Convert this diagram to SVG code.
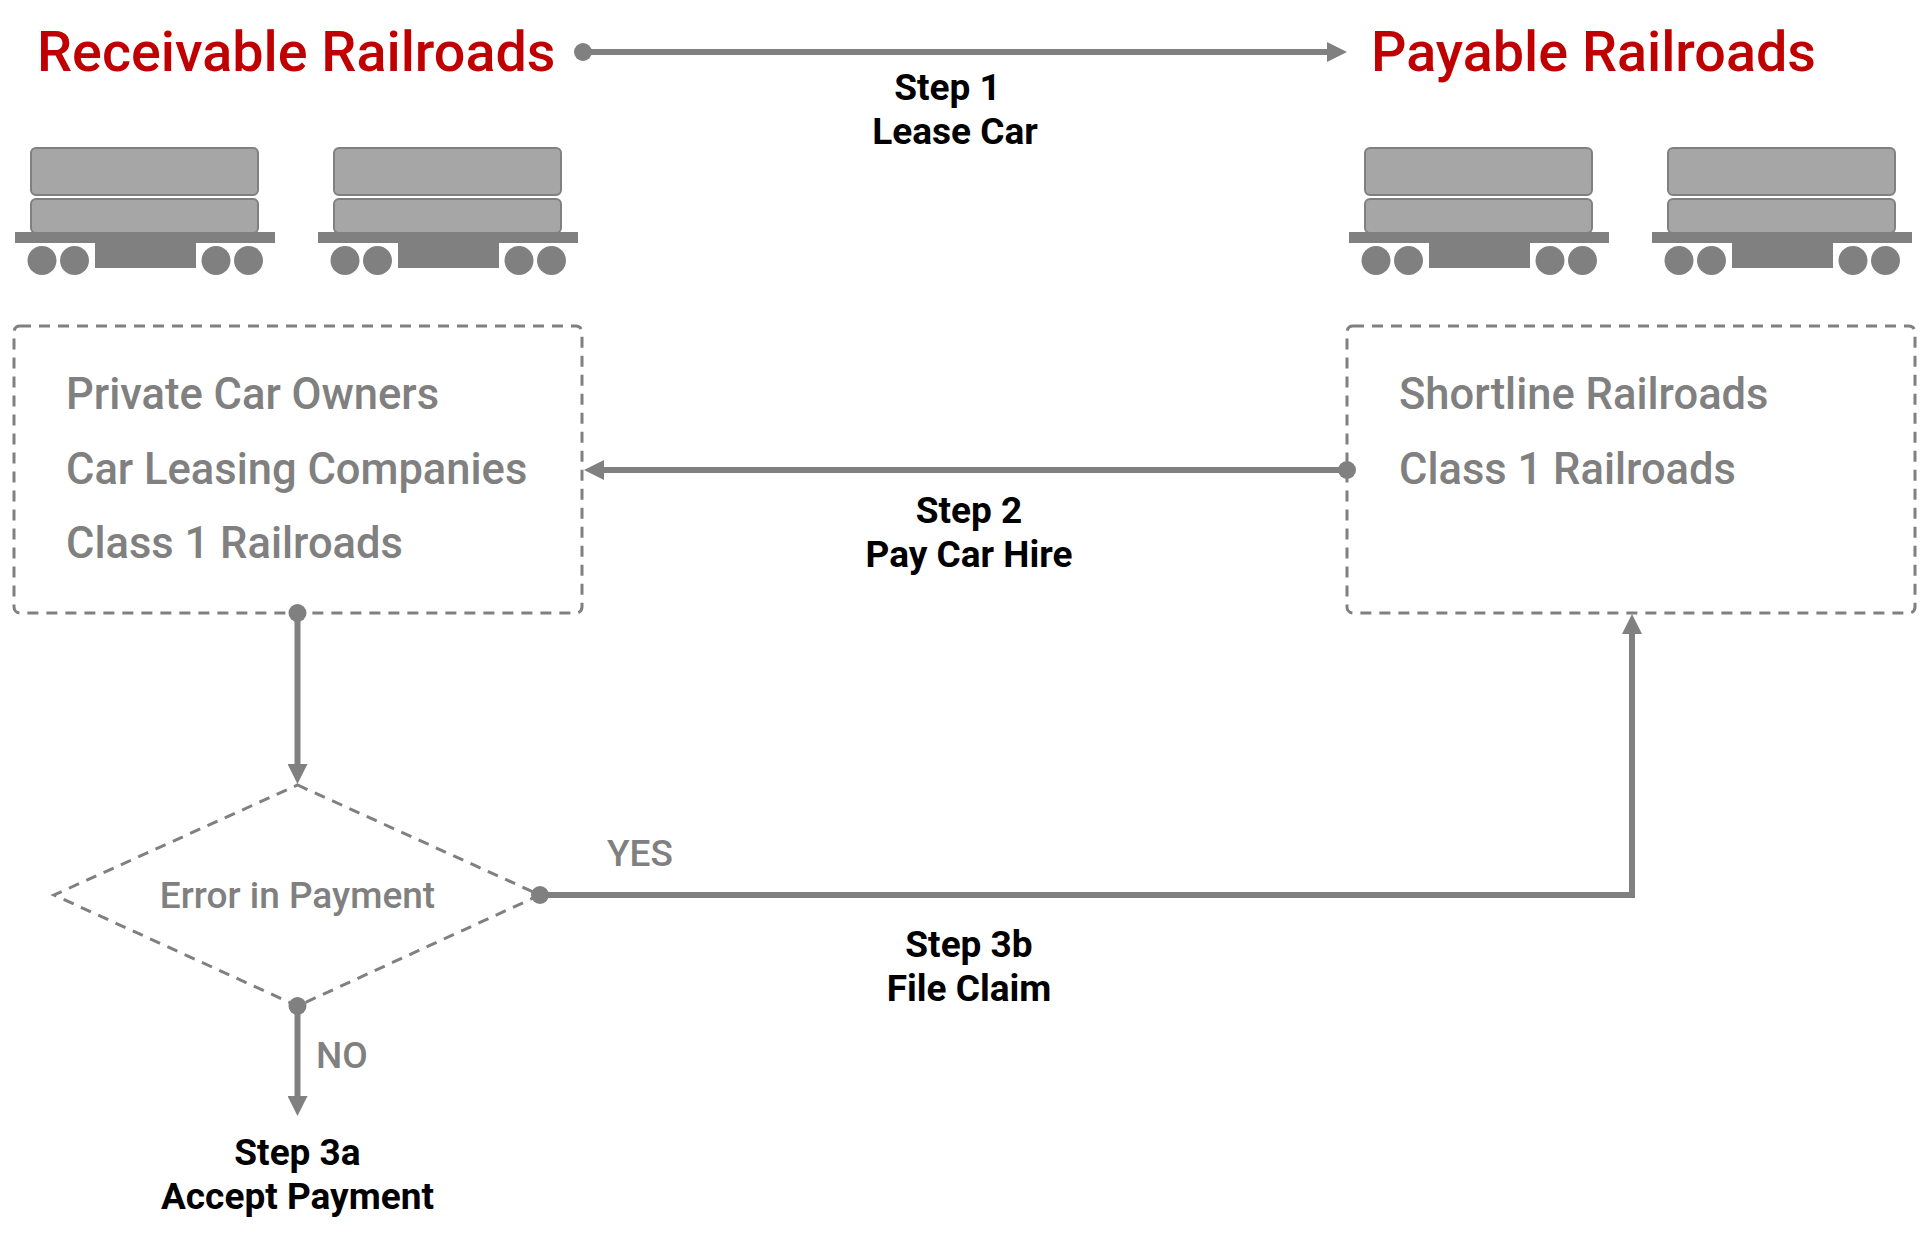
<svg xmlns="http://www.w3.org/2000/svg" xmlns:xlink="http://www.w3.org/1999/xlink" width="1920" height="1244" viewBox="0 0 1920 1244">
<style>
.title{font-family:Roboto,"Liberation Sans",sans-serif;font-size:55.7px;font-weight:500;fill:#C00000}
.gray{font-family:Roboto,"Liberation Sans",sans-serif;font-size:43.5px;font-weight:500;fill:#808080}
.gsm{font-family:Roboto,"Liberation Sans",sans-serif;font-size:37px;font-weight:500;fill:#808080}
.step{font-family:Roboto,"Liberation Sans",sans-serif;font-size:37px;font-weight:700;fill:#000;text-anchor:middle}
.dash{fill:none;stroke:#808080;stroke-width:3;stroke-dasharray:11 8}
.conn{fill:none;stroke:#808080;stroke-width:6}
.dot{fill:#808080}
.box{fill:#A6A6A6;stroke:#808080;stroke-width:2}
.dark{fill:#808080}
</style>
<defs>
<marker id="arrow" markerUnits="userSpaceOnUse" viewBox="0 -10 20 20" refX="1" refY="0" markerWidth="20" markerHeight="20" orient="auto">
<path d="M0,-10 L20,0 L0,10 Z" fill="#808080"/>
</marker>
<g id="car">
<rect class="box" x="-114" y="148" width="227" height="47" rx="5"/>
<rect class="box" x="-114" y="199" width="227" height="34" rx="5"/>
<rect class="dark" x="-130" y="232" width="260" height="11"/>
<rect class="dark" x="-50" y="243" width="101" height="25"/>
<circle class="dark" cx="-103" cy="260.5" r="14.5"/>
<circle class="dark" cx="-70.5" cy="260.5" r="14.5"/>
<circle class="dark" cx="71" cy="260.5" r="14.5"/>
<circle class="dark" cx="103.5" cy="260.5" r="14.5"/>
</g>
</defs>
<rect width="1920" height="1244" fill="#FFFFFF"/>

<g id="title-receivable"><text class="title" x="37" y="71">Receivable Railroads</text></g>
<g id="title-payable"><text class="title" x="1371" y="71">Payable Railroads</text></g>

<g id="cars-receivable">
<use xlink:href="#car" href="#car" x="145" y="0"/>
<use xlink:href="#car" href="#car" x="448" y="0"/>
</g>
<g id="cars-payable">
<use xlink:href="#car" href="#car" x="1479" y="0"/>
<use xlink:href="#car" href="#car" x="1782" y="0"/>
</g>

<g id="node-receivable">
<rect class="dash" x="14" y="326" width="568" height="287" rx="6"/>
<text class="gray" x="66" y="409">Private Car Owners</text>
<text class="gray" x="66" y="484">Car Leasing Companies</text>
<text class="gray" x="66" y="558">Class 1 Railroads</text>
</g>

<g id="node-payable">
<rect class="dash" x="1347" y="326" width="568" height="287" rx="6"/>
<text class="gray" x="1399" y="409">Shortline Railroads</text>
<text class="gray" x="1399" y="484">Class 1 Railroads</text>
</g>

<g id="node-decision">
<polygon class="dash" points="297.5,785 540,895 297.5,1006 54,895"/>
<text class="gsm" x="297.5" y="908" text-anchor="middle">Error in Payment</text>
</g>

<g id="connectors">
<line class="conn" x1="583" y1="52" x2="1328" y2="52" marker-end="url(#arrow)"/>
<circle class="dot" cx="583" cy="52" r="9"/>
<line class="conn" x1="1347" y1="470" x2="603" y2="470" marker-end="url(#arrow)"/>
<circle class="dot" cx="1347" cy="470" r="9"/>
<line class="conn" x1="297.5" y1="613" x2="297.5" y2="765" marker-end="url(#arrow)"/>
<circle class="dot" cx="297.5" cy="613" r="9"/>
<polyline class="conn" points="540,895 1632,895 1632,633" marker-end="url(#arrow)"/>
<circle class="dot" cx="540" cy="895" r="9"/>
<line class="conn" x1="297.5" y1="1006" x2="297.5" y2="1097" marker-end="url(#arrow)"/>
<circle class="dot" cx="297.5" cy="1006" r="9"/>
</g>

<g id="label-step1">
<text class="step" x="947.5" y="100">Step 1</text>
<text class="step" x="955" y="144">Lease Car</text>
</g>
<g id="label-step2">
<text class="step" x="969" y="523">Step 2</text>
<text class="step" x="969" y="567">Pay Car Hire</text>
</g>
<g id="label-step3b">
<text class="step" x="969" y="957">Step 3b</text>
<text class="step" x="969" y="1001">File Claim</text>
</g>
<g id="label-step3a">
<text class="step" x="297.5" y="1165">Step 3a</text>
<text class="step" x="297.5" y="1209">Accept Payment</text>
</g>
<g id="label-yes"><text class="gsm" x="607" y="866">YES</text></g>
<g id="label-no"><text class="gsm" x="316" y="1068">NO</text></g>
</svg>
